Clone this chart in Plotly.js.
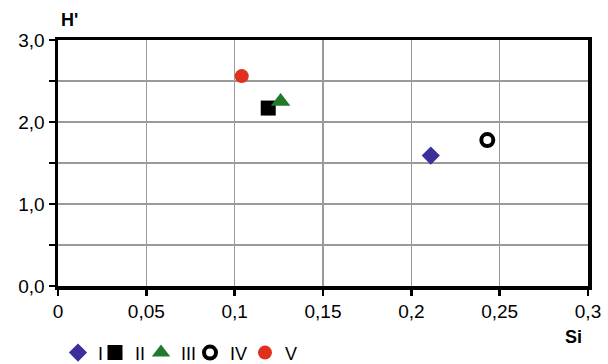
<!DOCTYPE html>
<html><head><meta charset="utf-8">
<script src="https://cdn.plot.ly/plotly-3.0.1.min.js"></script>
<style>html,body{margin:0;padding:0;background:#fff}#chart{width:608px;height:364px}</style>
</head><body><div id="chart"></div>
<script>
const seriesNames = ['I', 'II', 'III', 'IV', 'V'];
const siValues = [0.211, 0.119, 0.126, 0.243, 0.104];
const hValues = [1.59, 2.17, 2.25, 1.78, 2.56];
const xTickVals = [0, 0.05, 0.1, 0.15, 0.2, 0.25, 0.3];
const xTickText = ['0', '0,05', '0,1', '0,15', '0,2', '0,25', '0,3'];
const yTickVals = [0, 0.5, 1, 1.5, 2, 2.5, 3];
const yTickText = ['0,0', '', '1,0', '', '2,0', '', '3,0'];

const styles = [
  {symbol: 'diamond', color: '#3b2f9b', size: 14, lw: 0},
  {symbol: 'square', color: '#000000', size: 15, lw: 0},
  {symbol: 'triangle-up', color: '#217a2b', size: 17, lw: 0},
  {symbol: 'circle-open', color: '#000000', size: 12, lw: 4},
  {symbol: 'circle', color: '#e0311f', size: 14, lw: 0}
];
// legend left edges in px
const legendLeftPx = [58, 95, 141, 190, 245];
const M = {l: 58, r: 20, t: 40, b: 78};
const plotW = 608 - M.l - M.r;

const legendNames = ['legend', 'legend2', 'legend3', 'legend4', 'legend5'];
const traces = seriesNames.map((n, i) => ({
  type: 'scatter', mode: 'markers', name: n, legend: legendNames[i],
  x: [siValues[i]], y: [hValues[i]],
  marker: {symbol: styles[i].symbol, color: styles[i].color, size: styles[i].size,
           line: {width: styles[i].lw, color: styles[i].color}},
  hoverinfo: 'skip'
}));

const fam = 'Liberation Sans, Arial, sans-serif';
const font = {family: fam, size: 19, color: '#000'};
const layout = {
  width: 608, height: 364,
  margin: Object.assign({autoexpand: false}, M),
  paper_bgcolor: '#fff', plot_bgcolor: '#fff',
  font: font,
  showlegend: true,
  xaxis: {range: [0, 0.3], tickmode: 'array', tickvals: xTickVals, ticktext: xTickText,
          showgrid: true, gridcolor: '#9a9a9a', gridwidth: 1.5, zeroline: false,
          showline: true, linecolor: '#000', linewidth: 3.5, mirror: true,
          ticks: 'outside', ticklen: 6, tickwidth: 2.5, tickcolor: '#000',
          tickfont: font, fixedrange: true, automargin: false},
  yaxis: {range: [0, 3], tickmode: 'array', tickvals: yTickVals, ticktext: yTickText,
          showgrid: true, gridcolor: '#9a9a9a', gridwidth: 1.5, zeroline: false,
          showline: true, linecolor: '#000', linewidth: 3.5, mirror: true,
          ticks: 'outside', ticklen: 6, tickwidth: 2.5, tickcolor: '#000',
          tickfont: font, fixedrange: true, automargin: false},
  xaxis2: {range: [0, 0.3], overlaying: 'x', anchor: 'y', side: 'bottom', tickmode: 'array', tickvals: xTickVals,
           showticklabels: false, showgrid: false, zeroline: false, showline: false,
           ticks: 'inside', ticklen: 5, tickwidth: 2.5, tickcolor: '#000'},
  yaxis2: {range: [0, 3], overlaying: 'y', anchor: 'x', side: 'left', tickmode: 'array', tickvals: yTickVals,
           showticklabels: false, showgrid: false, zeroline: false, showline: false,
           ticks: 'inside', ticklen: 5, tickwidth: 2.5, tickcolor: '#000'},
  annotations: [
    {text: "<b>H'</b>", xref: 'paper', yref: 'paper', x: 0.0, y: 1.0, xanchor: 'left', yanchor: 'middle',
     yshift: 20, xshift: 1, showarrow: false, font: {family: fam, size: 18, color: '#000'}},
    {text: '<b>Si</b>', xref: 'paper', yref: 'paper', x: 1.0, y: 0, xanchor: 'center', yanchor: 'middle',
     yshift: -51, xshift: -15, showarrow: false, font: {family: fam, size: 18, color: '#000'}}
  ]
};
legendNames.forEach((ln, i) => {
  layout[ln] = {orientation: 'h', x: (legendLeftPx[i] - M.l) / plotW, xanchor: 'left',
                y: -0.272, yanchor: 'middle', font: {family: fam, size: 18, color: '#000'},
                itemwidth: 30, bgcolor: 'rgba(0,0,0,0)', borderwidth: 0};
});
Plotly.newPlot('chart', traces, layout, {displayModeBar: false, staticPlot: true});
</script></body></html>
